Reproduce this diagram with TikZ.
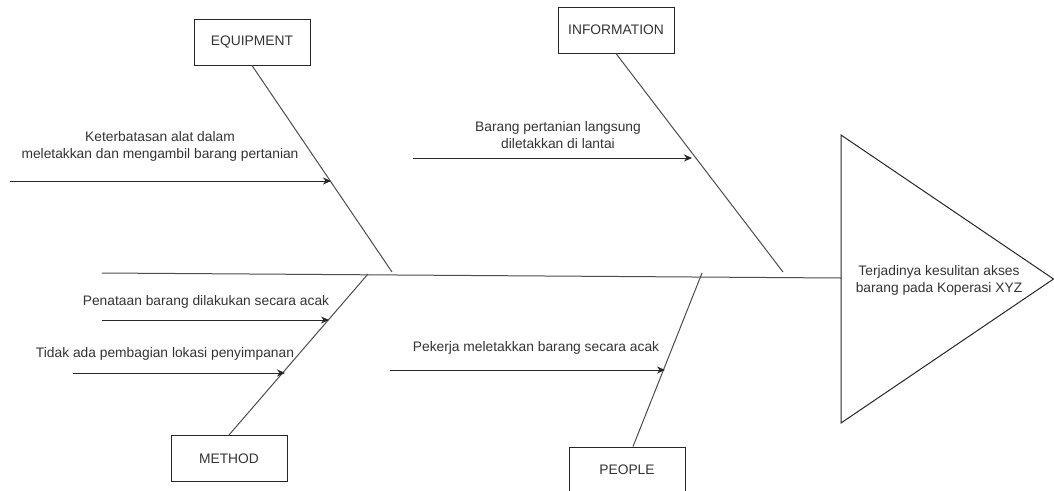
\documentclass[tikz,border=0pt]{standalone}
\usepackage{fontspec}
\setmainfont{Liberation Sans}
\usetikzlibrary{arrows.meta}
\begin{document}
\begin{tikzpicture}[x=1pt,y=-1pt,
  txt/.style={font=\fontsize{13.8}{17}\selectfont, text=black!80, inner sep=0pt, align=center},
  catbox/.style={draw=black!85, line width=1pt, minimum width=116pt, minimum height=46pt, txt},
  bone/.style={draw=black!70, line width=1pt},
  arr/.style={draw=black!85, line width=1pt, -{Stealth[length=8pt,width=7pt]}}]
\useasboundingbox (0,0) rectangle (1054,490);
% category boxes
\node[catbox] (equip) at (252,42) {EQUIPMENT};
\node[catbox] (info) at (616,30) {INFORMATION};
\node[catbox] (method) at (229,458.5) {METHOD};
\node[catbox] (people) at (627,470) {PEOPLE};
% spine and head
\coordinate (spineL) at (102,273);
\coordinate (tri) at (841,278);
\draw[bone] (spineL) -- (tri);
\draw[line width=1pt, draw=black!85] (841,135) -- (1053.5,279) -- (841,423) -- cycle;
\node[txt] (effect) at (939,280) {Terjadinya kesulitan akses\\barang pada Koperasi XYZ};
% bones
\coordinate (eb) at (392,272);
\coordinate (ib) at (783,272);
\coordinate (mb) at (368,274);
\coordinate (pb) at (702,273);
\draw[bone] (equip.south) -- (eb);
\draw[bone] (info.south) -- (ib);
\draw[bone] (method.north) -- (mb);
\draw[bone] ([xshift=6pt]people.north) -- (pb);
% cause arrows
\coordinate (e1s) at (10,181);   \coordinate (e1) at (331,181);
\coordinate (i1s) at (413,158);  \coordinate (i1) at (692,158);
\coordinate (m1s) at (102,320);  \coordinate (m1) at (329,320);
\coordinate (m2s) at (73,373);   \coordinate (m2) at (285,373);
\coordinate (p1s) at (390,370);  \coordinate (p1) at (665,370);
\draw[arr] (e1s) -- (e1);
\draw[arr] (i1s) -- (i1);
\draw[arr] (m1s) -- (m1);
\draw[arr] (m2s) -- (m2);
\draw[arr] (p1s) -- (p1);
% labels
\node[txt] (le1) at (160,146) {Keterbatasan alat dalam\\meletakkan dan mengambil barang pertanian};
\node[txt] (li1) at (558,135) {Barang pertanian langsung\\diletakkan di lantai};
\node[txt] (lm1) at (206,302) {Penataan barang dilakukan secara acak};
\node[txt] (lm2) at (165,354) {Tidak ada pembagian lokasi penyimpanan};
\node[txt] (lp1) at (536,348) {Pekerja meletakkan barang secara acak};
\end{tikzpicture}
\end{document}
